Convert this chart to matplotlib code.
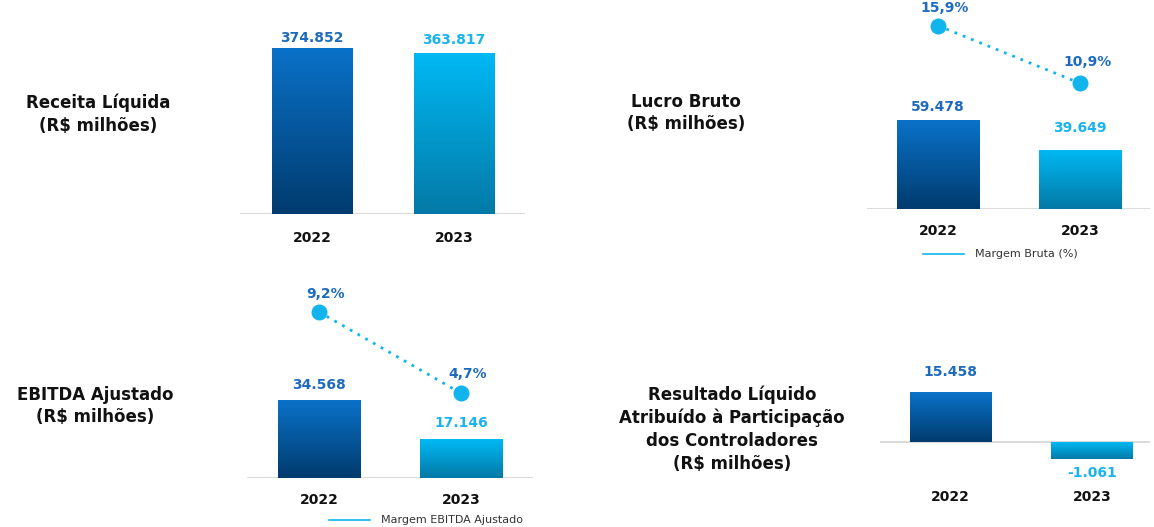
import numpy as np
import matplotlib.pyplot as plt
import matplotlib.colors as mcolors

# dados
anos = ['2022', '2023']
receita = [374.852, 363.817]
lucro_bruto = [59.478, 39.649]
margem_bruta = [15.9, 10.9]
ebitda = [34.568, 17.146]
margem_ebitda = [9.2, 4.7]
resultado = [15.458, -1.061]

fmt_val = lambda v: f'{v:.3f}'
fmt_pct = lambda v: f'{v:.1f}%'.replace('.', ',')

W, H = 1154, 527
fig = plt.figure(figsize=(W / 100, H / 100), dpi=100)

C_DARK = ('#0A72C9', '#013B6E')
C_LIGHT = ('#00B9F4', '#0479A6')
TXT_DARK = '#1E6BBE'
TXT_LIGHT = '#1AB3EE'
DOT = '#12B4EE'
GRID = '#D4D4D4'


def px_axes(x0, y0, x1, y1):
    # caixa em pixels (origem no topo) -> fração da figura
    return fig.add_axes([x0 / W, 1 - y1 / H, (x1 - x0) / W, (y1 - y0) / H])


def gradient_bars(ax, bars):
    for b, cols in zip(bars, [C_DARK, C_LIGHT]):
        x, y, w, h = b.get_x(), b.get_y(), b.get_width(), b.get_height()
        pts = ax.transData.transform([[x, y], [x + w, y + h]])
        (ax0, ay0), (ax1, ay1) = ax.transAxes.inverted().transform(pts)
        cmap = mcolors.LinearSegmentedColormap.from_list('g', [cols[0], cols[1]])
        grad = np.linspace(0, 1, 256).reshape(-1, 1)
        top, bot = max(ay0, ay1), min(ay0, ay1)
        im = ax.imshow(grad, cmap=cmap, aspect='auto', origin='upper',
                       extent=(ax0, ax1, bot, top), transform=ax.transAxes,
                       zorder=2)
        im.set_clip_path(b)
        b.set_facecolor('none')
        b.set_edgecolor('none')


def base_axes(ax, pad):
    for s in ax.spines.values():
        s.set_visible(False)
    ax.set_yticks([])
    ax.set_yticks([], minor=True)
    ax.tick_params(axis='y', which='both', left=False, labelleft=False)
    ax.set_xticks([0, 1])
    ax.set_xticklabels(anos, fontsize=10, fontweight='bold', color='#111111')
    ax.tick_params(axis='x', length=0, pad=pad)
    ax.axhline(0, color=GRID, lw=1.2, zorder=1)
    ax.patch.set_alpha(0)


def value_labels(ax, vals, offs):
    for i, (v, o) in enumerate(zip(vals, offs)):
        ax.annotate(fmt_val(v), xy=(i, v), xytext=(0, o), textcoords='offset pixels',
                    ha='center', va='center', fontsize=10, fontweight='bold',
                    color=[TXT_DARK, TXT_LIGHT][i])


def margin_line(ax, vals, offs, ymax, label, leg_xy):
    ax2 = ax.twinx()
    ax2.set_ylim(0, ymax)
    ax2.axis('off')
    ax2.plot([0, 1], vals, color=DOT, lw=2, ls=(0, (1, 2.2)), zorder=3)
    ax2.plot([0, 1], vals, 'o', color=DOT, ms=10.5, zorder=4)
    for i, (v, o) in enumerate(zip(vals, offs)):
        ax2.annotate(fmt_pct(v), xy=(i, v), xytext=(7, o), textcoords='offset pixels',
                     ha='center', va='center', fontsize=10, fontweight='bold',
                     color=TXT_DARK, annotation_clip=False)
    lx, ly = leg_xy
    fig.add_artist(plt.Line2D([lx / W, (lx + 41) / W], [1 - ly / H] * 2, color=DOT, lw=1.2))
    fig.text((lx + 52) / W, 1 - ly / H, label, fontsize=8, color='#333333', va='center')


# Receita Líquida
ax1 = px_axes(240, 20, 525, 214)
b = ax1.bar([0, 1], receita, width=0.57)
ax1.set_xlim(-0.51, 1.5)
ax1.set_ylim(0, 438)
base_axes(ax1, 12)
gradient_bars(ax1, b)
value_labels(ax1, receita, [10, 13])

# Lucro Bruto
ax2 = px_axes(867, 0, 1150, 209)
b = ax2.bar([0, 1], lucro_bruto, width=0.58)
ax2.set_xlim(-0.5, 1.49)
ax2.set_ylim(0, 139.9)
base_axes(ax2, 10.5)
gradient_bars(ax2, b)
value_labels(ax2, lucro_bruto, [13, 22])
margin_line(ax2, margem_bruta, [18, 21], 18.13, 'Margem Bruta (%)', (923, 254))

# EBITDA Ajustado
ax3 = px_axes(247, 280, 533, 478)
b = ax3.bar([0, 1], ebitda, width=0.58)
ax3.set_xlim(-0.507, 1.507)
ax3.set_ylim(0, 87.6)
base_axes(ax3, 10.5)
gradient_bars(ax3, b)
value_labels(ax3, ebitda, [15, 16])
margin_line(ax3, margem_ebitda, [18, 19], 10.97, 'Margem EBITDA Ajustado', (329, 520))

# Resultado Líquido (escala symlog para o valor negativo pequeno)
ax4 = px_axes(880, 360, 1150, 480)
ax4.set_yscale('symlog', linthresh=1, linscale=0.516)
b = ax4.bar([0, 1], resultado, width=0.58)
ax4.set_xlim(-0.5, 1.41)
ax4.set_ylim(-5.84, 208)
base_axes(ax4, 7)
gradient_bars(ax4, b)
for i, v in enumerate(resultado):
    o = 20 if v > 0 else -14
    ax4.annotate(fmt_val(v), xy=(i, v), xytext=(0, o), textcoords='offset pixels',
                 ha='center', va='center', fontsize=10, fontweight='bold',
                 color=[TXT_DARK, TXT_LIGHT][i])

# títulos
tkw = dict(fontsize=12, fontweight='bold', color='#111111', ha='center', va='center',
           multialignment='center', linespacing=1.35)
fig.text(98 / W, 1 - 114 / H, 'Receita Líquida\n(R$ milhões)', **tkw)
fig.text(686 / W, 1 - 113 / H, 'Lucro Bruto\n(R$ milhões)', **tkw)
fig.text(95 / W, 1 - 406 / H, 'EBITDA Ajustado\n(R$ milhões)', **tkw)
fig.text(732 / W, 1 - 429 / H,
         'Resultado Líquido\nAtribuído à Participação\ndos Controladores\n(R$ milhões)', **tkw)

fig.savefig('out.png', dpi=100, facecolor='white')
